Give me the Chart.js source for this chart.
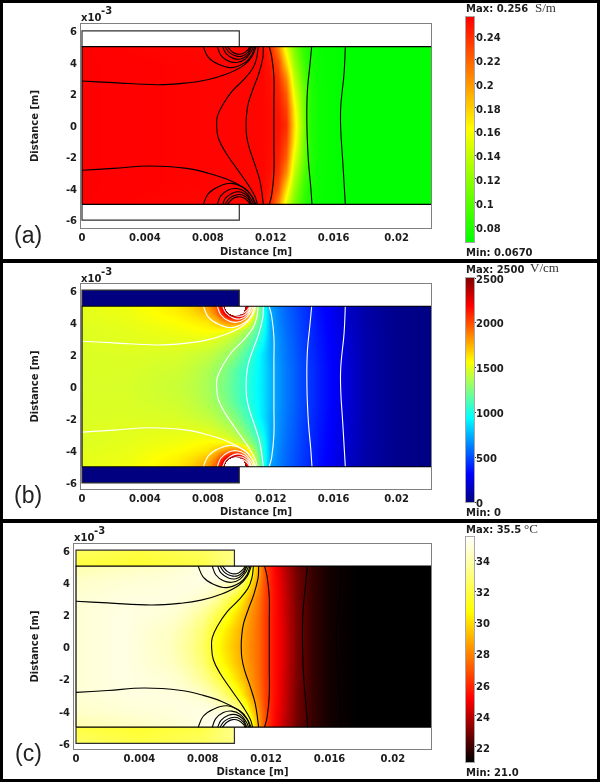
<!DOCTYPE html>
<html>
<head>
<meta charset="utf-8">
<script src="https://cdn.jsdelivr.net/npm/chart.js@4"></script>
<style>
  html, body { margin: 0; padding: 0; background: #000; }
  body { width: 600px; height: 782px; position: relative; overflow: hidden; }
  .panel { position: absolute; left: 3px; width: 594px; height: 256px; background: #fff; }
  canvas { position: absolute; }
</style>
</head>
<body>
<div class="panel" style="top:3px"></div>
<div class="panel" style="top:263px"></div>
<div class="panel" style="top:523px"></div>
<canvas id="fa"></canvas><canvas id="ba"></canvas>
<canvas id="fb"></canvas><canvas id="bb"></canvas>
<canvas id="fc"></canvas><canvas id="bc"></canvas>
<script>
// ─── Axis ticks ───────────────────────────────────────────────────
const xTicks = [0, 0.004, 0.008, 0.012, 0.016, 0.02];
const yTicks = [-6, -4, -2, 0, 2, 4, 6];
const sigmaTicks = [0.08, 0.1, 0.12, 0.14, 0.16, 0.18, 0.2, 0.22, 0.24];
const efieldTicks = [0, 500, 1000, 1500, 2000, 2500];
const tempTicks = [22, 24, 26, 28, 30, 32, 34];

// ─── Conductivity field, S/m (rows are |y| in mm) ─────────────────
const sigmaX = [0, 0.0115, 0.012, 0.0125, 0.013, 0.0135, 0.014, 0.0145, 0.015, 0.016, 0.017, 0.0225];
const sigmaY = [0, 1, 2, 3, 4, 5];
const sigma = [
  [.256, .254, .252, .250, .240, .175, .125, .080, .072, .068, .067, .067],
  [.256, .254, .252, .248, .232, .170, .120, .080, .072, .068, .067, .067],
  [.256, .254, .251, .245, .222, .155, .115, .080, .072, .068, .067, .067],
  [.256, .254, .250, .240, .205, .140, .105, .078, .071, .068, .067, .067],
  [.256, .254, .246, .228, .175, .125, .095, .075, .071, .068, .067, .067],
  [.256, .252, .242, .205, .150, .112, .088, .074, .070, .068, .067, .067],
];

// ─── Electric field, V/cm, and temperature, °C ────────────────────
const fieldX = [0, .003, .006, .007, .008, .0085, .009, .0095, .01, .0105, .011, .0115, .012, .0125, .013, .014, .015, .016, .017, .018, .02, .0225];
const fieldY = [0, 1, 2, 3, 3.5, 4, 4.25, 4.5, 4.75, 5];
const efield = [
  [1470, 1465, 1430, 1400, 1350, 1300, 1240, 1180, 1110, 1040, 960, 880, 760, 680, 610, 490, 390, 300, 200, 110, 30, 5],
  [1472, 1470, 1445, 1415, 1365, 1320, 1270, 1200, 1120, 1050, 970, 880, 760, 680, 610, 490, 390, 300, 200, 110, 30, 5],
  [1475, 1480, 1470, 1450, 1420, 1390, 1345, 1300, 1220, 1120, 1000, 880, 745, 670, 600, 480, 380, 295, 195, 110, 30, 5],
  [1480, 1495, 1510, 1515, 1510, 1490, 1460, 1420, 1350, 1250, 1120, 970, 740, 660, 590, 470, 370, 290, 190, 110, 30, 5],
  [1482, 1500, 1530, 1550, 1570, 1570, 1560, 1530, 1450, 1350, 1200, 1020, 740, 650, 580, 465, 365, 285, 185, 105, 30, 5],
  [1490, 1510, 1560, 1585, 1620, 1690, 1790, 1880, 1880, 1620, 1320, 1040, 740, 640, 570, 460, 360, 280, 180, 100, 30, 5],
  [1495, 1515, 1575, 1610, 1670, 1770, 1950, 2150, 2200, 1800, 1380, 1060, 740, 635, 568, 458, 358, 278, 178, 100, 30, 5],
  [1497, 1520, 1590, 1640, 1720, 1860, 2130, 2550, 2600, 1950, 1420, 1060, 730, 630, 565, 455, 355, 275, 175, 100, 30, 5],
  [1498, 1525, 1600, 1660, 1770, 1910, 2250, 3000, 3200, 2100, 1460, 1060, 720, 628, 562, 452, 352, 272, 172, 100, 30, 5],
  [1500, 1530, 1610, 1680, 1800, 1950, 2300, 3500, 3800, 2200, 1480, 1060, 710, 625, 560, 450, 350, 270, 170, 100, 30, 5],
];
const temp = [
  [34.7, 35.0, 34.3, 33.6, 32.6, 31.6, 30.7, 30.0, 29.4, 28.8, 28.1, 27.5, 26.3, 25.4, 24.7, 22.9, 21.8, 21.3, 21.1, 21, 21, 21],
  [34.7, 35.0, 34.4, 33.8, 32.9, 32.0, 31.0, 30.3, 29.6, 28.9, 28.2, 27.5, 26.3, 25.4, 24.7, 22.9, 21.8, 21.3, 21.1, 21, 21, 21],
  [34.7, 35.0, 34.7, 34.3, 33.5, 32.9, 32.1, 31.2, 30.3, 29.4, 28.4, 27.6, 26.3, 25.4, 24.6, 22.9, 21.8, 21.3, 21.1, 21, 21, 21],
  [34.7, 34.9, 34.9, 34.8, 34.5, 34.1, 33.5, 32.7, 31.6, 30.4, 28.9, 27.8, 26.4, 25.4, 24.6, 22.8, 21.8, 21.3, 21.1, 21, 21, 21],
  [34.6, 34.8, 34.9, 34.9, 34.8, 34.6, 34.2, 33.7, 33.0, 31.6, 29.6, 28.1, 26.4, 25.4, 24.5, 22.8, 21.8, 21.3, 21.1, 21, 21, 21],
  [34.5, 34.7, 34.8, 34.9, 35.0, 34.9, 34.8, 34.6, 34.3, 33.0, 30.3, 28.4, 26.5, 25.3, 24.5, 22.8, 21.8, 21.3, 21.1, 21, 21, 21],
  [34.4, 34.6, 34.8, 34.9, 35.0, 35.0, 35.0, 35.1, 35.1, 33.8, 30.8, 28.6, 26.5, 25.3, 24.4, 22.8, 21.8, 21.3, 21.1, 21, 21, 21],
  [34.2, 34.5, 34.7, 34.8, 35.0, 35.1, 35.2, 35.4, 35.5, 34.5, 31.2, 28.7, 26.5, 25.3, 24.4, 22.8, 21.8, 21.3, 21.1, 21, 21, 21],
  [34.1, 34.4, 34.6, 34.8, 35.0, 35.1, 35.3, 35.5, 35.5, 35.0, 31.5, 28.8, 26.4, 25.3, 24.3, 22.7, 21.8, 21.3, 21.1, 21, 21, 21],
  [34.0, 34.3, 34.5, 34.7, 34.9, 35.1, 35.3, 35.5, 35.5, 35.2, 31.7, 28.9, 26.4, 25.2, 24.3, 22.7, 21.8, 21.3, 21.1, 21, 21, 21],
];

// ─── Electrodes: x 0-0.01 m, |y| 5-6 mm ───────────────────────────
const electrodeX = [0, .004, .008, .01];
const electrodeY = [5, 6];
const electrodeVolt = [[0, 0, 0, 0], [0, 0, 0, 0]];
const electrodeTemp = [[31.9, 31.6, 32.0, 33.4], [32.6, 32.0, 32.5, 33.2]];

// ─── Contours, [x m, y mm] ────────────────────────────────────────
const upperFlat = [[0, 2.82], [.002, 2.72], [.00475, 2.59], [.00665, 2.70], [.0079, 2.89], [.0092, 3.27], [.01026, 3.8], [.0108, 4.37], [.01106, 5]];
const lowerFlat = [[0, -2.84], [.002, -2.72], [.00432, -2.57], [.00665, -2.72], [.0079, -2.99], [.0092, -3.4], [.01026, -3.95], [.0108, -4.5], [.01106, -5]];
const bulgeA = [[.0112, 5], [.01110, 4.26], [.01085, 3.62], [.01026, 2.89], [.00952, 2.15], [.00894, 1.3], [.0086, .56], [.00856, -.03], [.00867, -.81], [.0091, -1.66], [.00983, -2.72], [.01057, -3.77], [.011, -4.5], [.01115, -5]];
const bulgeB = [[.01153, 5], [.01149, 4.26], [.01121, 3.2], [.01089, 2.36], [.01057, 1.41], [.01045, .56], [.01043, 0], [.01047, -.7], [.01064, -1.45], [.011, -2.5], [.01132, -3.56], [.01153, -5]];
const bulgeC = [[.0119, 5], [.01206, 4.36], [.0122, 3.1], [.0122, 1.6], [.0122, -1.3], [.0122, -3], [.01206, -4.4], [.0119, -5]];
const bulgeD = [[.0146, 5], [.0145, 3.94], [.01432, 2.04], [.0143, -.07], [.01439, -2.18], [.01454, -3.87], [.01462, -5]];
const bulgeE = [[.01674, 5], [.01666, 3.31], [.01645, 1.2], [.01645, -.28], [.01657, -2.18], [.01674, -5]];
const ringA = [[.00771, 5], [.00803, 4.32], [.00867, 3.88], [.00951, 3.67], [.01036, 3.99], [.01079, 4.47], [.01098, 5]];
const ringB = [[.0086, 5], [.00882, 4.47], [.0093, 4.09], [.00983, 4.0], [.01036, 4.2], [.01075, 4.68], [.01089, 5]];
const ringC = [[.00894, 5], [.00915, 4.58], [.00962, 4.26], [.01009, 4.22], [.01051, 4.47], [.01079, 5]];
const ringD = [[.00909, 5], [.00937, 4.62], [.00979, 4.41], [.01021, 4.41], [.01057, 4.68], [.01072, 5]];
const ringE = [[.00924, 5], [.00954, 4.68], [.00988, 4.53], [.01026, 4.58], [.01057, 4.83], [.01066, 5]];

const domainEdge = [[0, -5], [0, 5], [.0225, 5], [.0225, -5], [0, -5]];
const electrodeTop = [[0, 5], [0, 6], [.01, 6], [.01, 5]];
const electrodeBottom = [[0, -5], [0, -6], [.01, -6], [.01, -5]];

const flip = line => line.map(([x, y]) => [x, -y]);
const rings = [ringA, ringB, ringC, ringD, ringE];
const contours = [upperFlat, lowerFlat, bulgeA, bulgeB, bulgeC, bulgeD, bulgeE, ...rings, ...rings.map(flip)];

// ─── Colour maps ──────────────────────────────────────────────────
const greenRed = [[0, 0, 255, 0], [.5, 255, 255, 0], [1, 255, 0, 0]];
const jet = [[0, 0, 0, 128], [.125, 0, 0, 255], [.375, 0, 255, 255], [.625, 255, 255, 0], [.875, 255, 0, 0], [1, 128, 0, 0]];
const hot = [[0, 0, 0, 0], [.28, 255, 0, 0], [.67, 255, 255, 0], [1, 255, 255, 255]];

function colourAt(map, t) {
  if (t <= 0) return map[0].slice(1);
  for (let i = 1; i < map.length; i++) {
    if (t <= map[i][0]) {
      const a = map[i - 1], b = map[i], f = (t - a[0]) / (b[0] - a[0]);
      return [a[1] + (b[1] - a[1]) * f, a[2] + (b[2] - a[2]) * f, a[3] + (b[3] - a[3]) * f];
    }
  }
  return map[map.length - 1].slice(1);
}

function bracket(list, v) {
  let i = 0;
  while (i < list.length - 2 && v > list[i + 1]) i++;
  return [i, Math.min(1, Math.max(0, (v - list[i]) / (list[i + 1] - list[i])))];
}

// paints one value grid onto the chart through its scales, smooth like the solver's plot
function paintGrid(chart, grid, cb) {
  const { x, y } = chart.scales, { ctx, chartArea: ca } = chart;
  const xs = grid.xs, ys = grid.ys, rows = grid.rows;
  const w = ca.right - ca.left, h = ca.bottom - ca.top;
  const img = ctx.createImageData(w, h);
  for (let py = 0; py < h; py++) {
    const ay = Math.abs(y.getValueForPixel(ca.top + py + .5));
    if (ay < ys[0] || ay > ys[ys.length - 1]) continue;
    const [j, fy] = bracket(ys, ay);
    for (let px = 0; px < w; px++) {
      const vx = x.getValueForPixel(ca.left + px + .5);
      if (vx < xs[0] || vx > xs[xs.length - 1]) continue;
      const [i, fx] = bracket(xs, vx);
      const top = rows[j][i] + (rows[j][i + 1] - rows[j][i]) * fx;
      const bot = rows[j + 1][i] + (rows[j + 1][i + 1] - rows[j + 1][i]) * fx;
      const val = top + (bot - top) * fy;
      const c = val > cb.max && cb.over ? [255, 255, 255] : colourAt(cb.map, (val - cb.min) / (cb.max - cb.min));
      const k = (py * w + px) * 4;
      img.data[k] = c[0]; img.data[k + 1] = c[1]; img.data[k + 2] = c[2]; img.data[k + 3] = 255;
    }
  }
  const tmp = document.createElement('canvas');
  tmp.width = w; tmp.height = h;
  tmp.getContext('2d').putImageData(img, 0, 0);
  ctx.drawImage(tmp, ca.left, ca.top);
}

// ─── Text helper ──────────────────────────────────────────────────
const BOLD = 'bold 10px "DejaVu Sans"';
const INK = '#1c1c1c';
function text(ctx, str, x, y, font, color) {
  ctx.save();
  ctx.font = font || BOLD;
  ctx.fillStyle = color || INK;
  ctx.textBaseline = 'middle';
  ctx.textAlign = 'left';
  ctx.fillText(str, x, y);
  ctx.restore();
}

const asPoints = line => line.map(([x, y]) => ({ x, y }));
const lineSet = (line, color, width, tension) => ({
  data: asPoints(line), showLine: true, borderColor: color, borderWidth: width,
  pointRadius: 0, tension, fill: false,
});

// ─── Field panel builder ──────────────────────────────────────────
function mkField(id, p) {
  const cv = document.getElementById(id);
  cv.width = 594; cv.height = 256;
  cv.style.left = '3px'; cv.style.top = p.top + 'px';
  const box = p.box;
  const padLeft = p.yTitleX - 6 - 3;
  const padBottom = p.top + 256 - (p.xTitleY + 6);

  const paint = {
    id: 'paint',
    beforeDatasetsDraw(chart) {
      paintGrid(chart, p.grid, p.cb);
      if (p.electrode) paintGrid(chart, p.electrode, p.cb);
    },
    afterDraw(chart) {
      const { ctx, chartArea: ca } = chart;
      ctx.save();
      ctx.strokeStyle = '#808080';
      ctx.lineWidth = 1;
      ctx.strokeRect(ca.left + .5, ca.top + .5, ca.right - ca.left - 1, ca.bottom - ca.top - 1);
      ctx.restore();
      text(ctx, 'x10', box.l + 1 - 3, p.expY - p.top);
      text(ctx, '-3', box.l + 21 - 3, p.expY - 6.5 - p.top);
      text(ctx, p.letter, p.letterX - 3, p.letterY - p.top, '23px "Liberation Sans"', '#222');
    },
  };

  const datasets = [
    lineSet(domainEdge, '#000', 1.2, 0),
    lineSet(electrodeTop, '#303030', 1.2, 0),
    lineSet(electrodeBottom, '#303030', 1.2, 0),
    ...contours.map(c => lineSet(c, p.lineColor, 1.1, 0.4)),
  ];

  return new Chart(cv, {
    type: 'scatter',
    data: { datasets },
    plugins: [paint],
    options: {
      responsive: false,
      animation: false,
      layout: { padding: { left: padLeft, top: box.t - p.top, right: 597 - box.r, bottom: padBottom } },
      plugins: { legend: { display: false }, tooltip: { enabled: false } },
      scales: {
        x: {
          type: 'linear', min: p.xMin, max: p.xMax,
          afterBuildTicks: s => { s.ticks = xTicks.map(value => ({ value })); },
          afterFit: s => { s.height = p.xTitleY + 6 - box.b; },
          grid: { display: false, drawTicks: false },
          border: { display: false },
          ticks: { autoSkip: false, maxRotation: 0, padding: p.xPad, color: INK, font: { size: 10, weight: 'bold', family: 'DejaVu Sans' }, callback: v => String(v) },
          title: { display: true, text: 'Distance [m]', color: INK, padding: 0, font: { size: 10, weight: 'bold', family: 'DejaVu Sans' } },
        },
        y: {
          type: 'linear', min: p.yMin, max: p.yMax,
          afterBuildTicks: s => { s.ticks = yTicks.map(value => ({ value })); },
          afterFit: s => { s.width = box.l - 3 - padLeft; },
          grid: { display: false, drawTicks: false },
          border: { display: false },
          ticks: { autoSkip: false, padding: p.yPad, labelOffset: p.yLabelOffset, color: INK, font: { size: 10, weight: 'bold', family: 'DejaVu Sans' }, callback: v => String(v) },
          title: { display: true, text: 'Distance [m]', color: INK, padding: 0, font: { size: 10, weight: 'bold', family: 'DejaVu Sans' } },
        },
      },
    },
  });
}

// ─── Colour bar builder ───────────────────────────────────────────
function mkBar(id, p) {
  const cv = document.getElementById(id);
  cv.width = 157; cv.height = 256;
  cv.style.left = '440px'; cv.style.top = p.top + 'px';

  const paint = {
    id: 'barPaint',
    beforeDatasetsDraw(chart) {
      const { ctx, chartArea: ca, scales: { y } } = chart;
      for (let py = ca.top; py < ca.bottom; py++) {
        const c = colourAt(p.cb.map, (y.getValueForPixel(py + .5) - p.cb.min) / (p.cb.max - p.cb.min));
        ctx.fillStyle = `rgb(${c[0]},${c[1]},${c[2]})`;
        ctx.fillRect(ca.left, py, ca.right - ca.left, 1);
      }
      ctx.strokeStyle = '#a8a8a8';
      ctx.lineWidth = 1;
      ctx.strokeRect(ca.left - .5, ca.top - .5, ca.right - ca.left + 1, ca.bottom - ca.top + 1);
    },
    afterDraw(chart) {
      const ctx = chart.ctx;
      text(ctx, p.maxText, 26, p.maxY - p.top);
      text(ctx, p.unit, p.unitX - 440, p.maxY - 1 - p.top, '13px "Liberation Serif"', '#333');
      text(ctx, p.minText, 26, p.minY - p.top);
    },
  };

  return new Chart(cv, {
    type: 'scatter',
    data: { datasets: [{ data: [] }] },
    plugins: [paint],
    options: {
      responsive: false,
      animation: false,
      layout: { padding: { left: 26, top: p.barTop - p.top, right: 63, bottom: p.top + 256 - p.barBottom } },
      plugins: { legend: { display: false }, tooltip: { enabled: false } },
      scales: {
        x: { type: 'linear', display: false, min: 0, max: 1 },
        y: {
          type: 'linear', position: 'right', min: p.cb.min, max: p.cb.max,
          afterBuildTicks: s => { s.ticks = p.ticks.map(value => ({ value })); },
          afterFit: s => { s.width = 60; },
          grid: { drawOnChartArea: false, drawTicks: true, tickLength: 2, tickColor: '#333' },
          border: { display: false },
          ticks: { autoSkip: false, padding: 0, labelOffset: p.labelOffset, color: INK, font: { size: 10, weight: 'bold', family: 'DejaVu Sans' }, callback: v => String(v) },
        },
      },
    },
  });
}

// ─── Panels ───────────────────────────────────────────────────────
const cbA = { map: greenRed, min: 0.067, max: 0.256 };
const cbB = { map: jet, min: 0, max: 2500, over: true };
const cbC = { map: hot, min: 21, max: 35.5 };

mkField('fa', {
  top: 3, box: { l: 80, t: 23, r: 432, b: 229 }, yTitleX: 35, xTitleY: 252, expY: 18,
  letter: '(a)', letterX: 14, letterY: 237, lineColor: '#000',
  xMin: -0.000127, xMax: 0.02225, yMin: -6.567, yMax: 6.504, xPad: 3, yPad: 3, yLabelOffset: 1.5,
  grid: { xs: sigmaX, ys: sigmaY, rows: sigma }, cb: cbA,
});
mkBar('ba', {
  top: 3, barTop: 17, barBottom: 242, cb: cbA, ticks: sigmaTicks, labelOffset: 2.5,
  maxText: 'Max: 0.256', unit: 'S/m', unitX: 535, maxY: 9.5, minText: 'Min: 0.0670', minY: 253,
});

mkField('fb', {
  top: 263, box: { l: 80, t: 283, r: 432, b: 490 }, yTitleX: 35, xTitleY: 512, expY: 279,
  letter: '(b)', letterX: 14, letterY: 497, lineColor: '#fff',
  xMin: -0.000127, xMax: 0.02225, yMin: -6.449, yMax: 6.449, xPad: 3, yPad: 3, yLabelOffset: 2,
  grid: { xs: fieldX, ys: fieldY, rows: efield },
  electrode: { xs: electrodeX, ys: electrodeY, rows: electrodeVolt }, cb: cbB,
});
mkBar('bb', {
  top: 263, barTop: 278, barBottom: 502, cb: cbB, ticks: efieldTicks, labelOffset: 2,
  maxText: 'Max: 2500', unit: 'V/cm', unitX: 530, maxY: 270, minText: 'Min: 0', minY: 513.5,
});

mkField('fc', {
  top: 523, box: { l: 73, t: 543, r: 432, b: 750 }, yTitleX: 35, xTitleY: 772.5, expY: 538,
  letter: '(c)', letterX: 15, letterY: 755, lineColor: '#000',
  xMin: -0.00019, xMax: 0.02247, yMin: -6.416, yMax: 6.44, xPad: 3, yPad: 3, yLabelOffset: 2,
  grid: { xs: fieldX, ys: fieldY, rows: temp },
  electrode: { xs: electrodeX, ys: electrodeY, rows: electrodeTemp }, cb: cbC,
});
mkBar('bc', {
  top: 523, barTop: 537, barBottom: 762, cb: cbC, ticks: tempTicks, labelOffset: 2.5,
  maxText: 'Max: 35.5', unit: '°C', unitX: 524, maxY: 530.5, minText: 'Min: 21.0', minY: 773.5,
});
</script>
</body>
</html>
